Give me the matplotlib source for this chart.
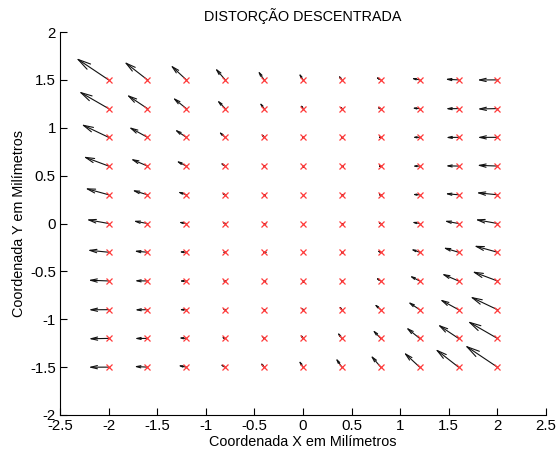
import matplotlib
matplotlib.use('Agg')

import matplotlib.pyplot as plt
import numpy as np

plt.rcParams['font.family'] = ['Liberation Sans', 'DejaVu Sans']

# Grid of measurement points (mm)
x_points = [-2.0, -1.6, -1.2, -0.8, -0.4, 0.0, 0.4, 0.8, 1.2, 1.6, 2.0]
y_points = [-1.5, -1.2, -0.9, -0.6, -0.3, 0.0, 0.3, 0.6, 0.9, 1.2, 1.5]

# Displayed arrow components, one row per y value (bottom to top)
u_rows = [
    [-0.208, -0.138, -0.087, -0.054, -0.039, -0.043, -0.064, -0.104, -0.163, -0.239, -0.334],
    [-0.205, -0.133, -0.079, -0.044, -0.026, -0.027, -0.047, -0.084, -0.140, -0.214, -0.306],
    [-0.206, -0.131, -0.075, -0.037, -0.017, -0.015, -0.032, -0.067, -0.120, -0.192, -0.281],
    [-0.210, -0.133, -0.074, -0.033, -0.011, -0.007, -0.021, -0.053, -0.104, -0.173, -0.260],
    [-0.217, -0.138, -0.076, -0.033, -0.008, -0.002, -0.013, -0.043, -0.091, -0.158, -0.242],
    [-0.228, -0.146, -0.082, -0.037, -0.009, 0.000, -0.009, -0.037, -0.082, -0.146, -0.228],
    [-0.242, -0.158, -0.091, -0.043, -0.013, -0.002, -0.008, -0.033, -0.076, -0.138, -0.217],
    [-0.260, -0.173, -0.104, -0.053, -0.021, -0.007, -0.011, -0.033, -0.074, -0.133, -0.210],
    [-0.281, -0.192, -0.120, -0.067, -0.032, -0.015, -0.017, -0.037, -0.075, -0.131, -0.206],
    [-0.306, -0.214, -0.140, -0.084, -0.047, -0.027, -0.026, -0.044, -0.079, -0.133, -0.205],
    [-0.334, -0.239, -0.163, -0.104, -0.064, -0.043, -0.039, -0.054, -0.087, -0.138, -0.208],
]
v_rows = [
    [-0.001, 0.007, 0.018, 0.032, 0.050, 0.071, 0.095, 0.123, 0.154, 0.189, 0.227],
    [-0.004, -0.001, 0.006, 0.016, 0.029, 0.045, 0.065, 0.089, 0.115, 0.145, 0.179],
    [-0.001, -0.002, 0.000, 0.005, 0.014, 0.026, 0.041, 0.060, 0.082, 0.107, 0.136],
    [0.008, 0.002, -0.001, 0.000, 0.004, 0.011, 0.022, 0.036, 0.054, 0.075, 0.099],
    [0.022, 0.012, 0.004, 0.000, 0.000, 0.003, 0.009, 0.019, 0.032, 0.048, 0.068],
    [0.042, 0.027, 0.015, 0.007, 0.002, 0.000, 0.002, 0.007, 0.015, 0.027, 0.042],
    [0.068, 0.048, 0.032, 0.019, 0.009, 0.003, 0.000, 0.000, 0.004, 0.012, 0.022],
    [0.099, 0.075, 0.054, 0.036, 0.022, 0.011, 0.004, 0.000, -0.001, 0.002, 0.008],
    [0.136, 0.107, 0.082, 0.060, 0.041, 0.026, 0.014, 0.005, 0.000, -0.002, -0.001],
    [0.179, 0.145, 0.115, 0.089, 0.065, 0.045, 0.029, 0.016, 0.006, -0.001, -0.004],
    [0.227, 0.189, 0.154, 0.123, 0.095, 0.071, 0.050, 0.032, 0.018, 0.007, -0.001],
]

x_ticks = [-2.5, -2, -1.5, -1, -0.5, 0, 0.5, 1, 1.5, 2, 2.5]
y_ticks = [-2, -1.5, -1, -0.5, 0, 0.5, 1, 1.5, 2]

fig = plt.figure(figsize=(5.57, 4.59), dpi=100)
ax = fig.add_axes([60 / 557, 44 / 459, 486 / 557, 383 / 459])
ax.set_xlim(-2.5, 2.5)
ax.set_ylim(-2, 2)

X, Y = np.meshgrid(x_points, y_points)
U = np.array(u_rows)
V = np.array(v_rows)

# MATLAB-style open arrowheads, sized relative to each arrow's length.
px_to_pt = 72.0 / fig.dpi
for x0, y0, u, v in zip(X.ravel(), Y.ravel(), U.ravel(), V.ravel()):
    p0 = ax.transData.transform((x0, y0))
    p1 = ax.transData.transform((x0 + u, y0 + v))
    length = np.hypot(*(p1 - p0)) * px_to_pt
    if length < 0.5:
        continue
    style = f'->,head_length={0.33 * length:.3f},head_width={0.08 * length:.3f}'
    ax.annotate('', xy=(x0 + u, y0 + v), xytext=(x0, y0),
                arrowprops=dict(arrowstyle=style, color='#111111', lw=0.8,
                                shrinkA=0, shrinkB=0, mutation_scale=1))

ax.plot(X.ravel(), Y.ravel(), 'x', color='#ff3a3a', markersize=4.6,
        markeredgewidth=0.9, linestyle='none', zorder=5)

ax.set_xticks(x_ticks)
ax.set_xticklabels([f'{t:g}' for t in x_ticks])
ax.set_yticks(y_ticks)
ax.set_yticklabels([f'{t:g}' for t in y_ticks])
ax.tick_params(direction='in', length=5, labelsize=10.8, width=0.8, pad=3)

ax.spines['top'].set_visible(False)
ax.spines['right'].set_visible(False)
ax.spines['left'].set_linewidth(0.8)
ax.spines['bottom'].set_linewidth(0.8)

ax.set_title('DISTORÇÃO DESCENTRADA', fontsize=10.4, pad=8)
ax.set_xlabel('Coordenada X em Milímetros', fontsize=10.4, labelpad=1)
ax.set_ylabel('Coordenada Y em Milímetros', fontsize=10.4, labelpad=3)

fig.savefig('out.png', dpi=100, facecolor='white')
plt.close(fig)
